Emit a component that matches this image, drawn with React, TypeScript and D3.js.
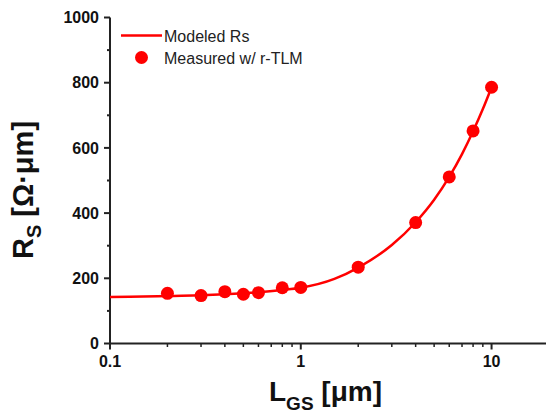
import React from 'react';
import * as d3 from "d3";

// measured points (r-TLM)
const measuredL = [0.2, 0.3, 0.4, 0.5, 0.6, 0.8, 1, 2, 4, 6, 8, 10];
const measuredRs = [154, 147, 159, 151, 156, 171, 172, 234, 371, 511, 652, 786];

// modeled curve
const modelL = [0.1, 0.15, 0.2, 0.3, 0.4, 0.5, 0.6, 0.8, 1, 1.5, 2, 3, 4, 5, 6, 7, 8, 9, 10];
const modelRs = [143, 144, 146, 148, 151, 154, 157, 164, 171, 198, 233, 302, 372, 441, 511, 581, 651, 719, 786];

const yTicks = [0, 200, 400, 600, 800, 1000];
const yMinor = [100, 300, 500, 700, 900];
const xTicks = [0.1, 1, 10];
const xTickLabels = ["0.1", "1", "10"];
const xMinor = [0.2, 0.3, 0.4, 0.5, 0.6, 0.7, 0.8, 0.9, 2, 3, 4, 5, 6, 7, 8, 9];

const W = 546, H = 413;
const FONT = "Arial, 'Liberation Sans', sans-serif";
const RED = "#ff0000";
const AXIS = "#222";

const App = () => {
    const x = d3.scaleLog().domain([0.1, 20]).range([110, 549]);
    const y = d3.scaleLinear().domain([0, 1000]).range([343.5, 17.5]);

    const line = d3.line<number>()
        .x((d, i) => x(modelL[i]))
        .y(d => y(d))
        .curve(d3.curveMonotoneX);

    const x0 = x(0.1), y0 = y(0);

    return (
        <div>
            <style>{"body{margin:0}"}</style>
            <svg width={W} height={H} fontFamily={FONT} style={{ display: "block", background: "#fff" }}>
                {/* axes */}
                <line x1={x0} x2={x0} y1={y(1000)} y2={y0 + 1} stroke={AXIS} strokeWidth={2} />
                <line x1={x0 - 1} x2={W} y1={y0} y2={y0} stroke={AXIS} strokeWidth={2} />
                {yTicks.map(t =>
                    <g key={"y" + t}>
                        <line x1={x0 - 6} x2={x0} y1={y(t)} y2={y(t)} stroke={AXIS} strokeWidth={2} />
                        <text x={x0 - 11} y={y(t)} dy="0.36em" textAnchor="end" fontSize={16} fontWeight="bold" fill="#111">{t}</text>
                    </g>)}
                {yMinor.map(t =>
                    <line key={"ym" + t} x1={x0 - 3} x2={x0} y1={y(t)} y2={y(t)} stroke={AXIS} strokeWidth={2} />)}
                {xTicks.map((t, i) =>
                    <g key={"x" + t}>
                        <line x1={x(t)} x2={x(t)} y1={y0} y2={y0 + 6} stroke={AXIS} strokeWidth={2} />
                        <text x={x(t)} y={y0 + 23} textAnchor="middle" fontSize={16} fontWeight="bold" fill="#111">{xTickLabels[i]}</text>
                    </g>)}
                {xMinor.map(t =>
                    <line key={"xm" + t} x1={x(t)} x2={x(t)} y1={y0} y2={y0 + 3.5} stroke={AXIS} strokeWidth={1.5} />)}

                {/* axis titles */}
                <text x={269} y={401} fontSize={28} fontWeight="bold" fill="#111">
                    L<tspan fontSize={19} dy={9}>GS</tspan><tspan dy={-9}> [μm]</tspan>
                </text>
                <text transform="translate(33,190) rotate(-90)" textAnchor="middle" fontSize={29} fontWeight="bold" fill="#111">
                    R<tspan fontSize={20} dy={8}>S</tspan><tspan dy={-8}> [Ω·μm]</tspan>
                </text>

                {/* model curve */}
                <path d={line(modelRs) ?? ""} fill="none" stroke={RED} strokeWidth={2.5} />
                {/* measured */}
                {measuredL.map((l, i) =>
                    <circle key={"m" + l} cx={x(l)} cy={y(measuredRs[i])} r={6.5} fill={RED} />)}

                {/* legend */}
                <line x1={121} x2={162} y1={35.5} y2={35.5} stroke={RED} strokeWidth={2.5} />
                <text x={164} y={41.5} fontSize={16} fill="#222">Modeled Rs</text>
                <circle cx={141.5} cy={57.5} r={6.5} fill={RED} />
                <text x={164} y={63.5} fontSize={16} fill="#222">Measured w/ r-TLM</text>
            </svg>
        </div>
    );
};

export default App;
